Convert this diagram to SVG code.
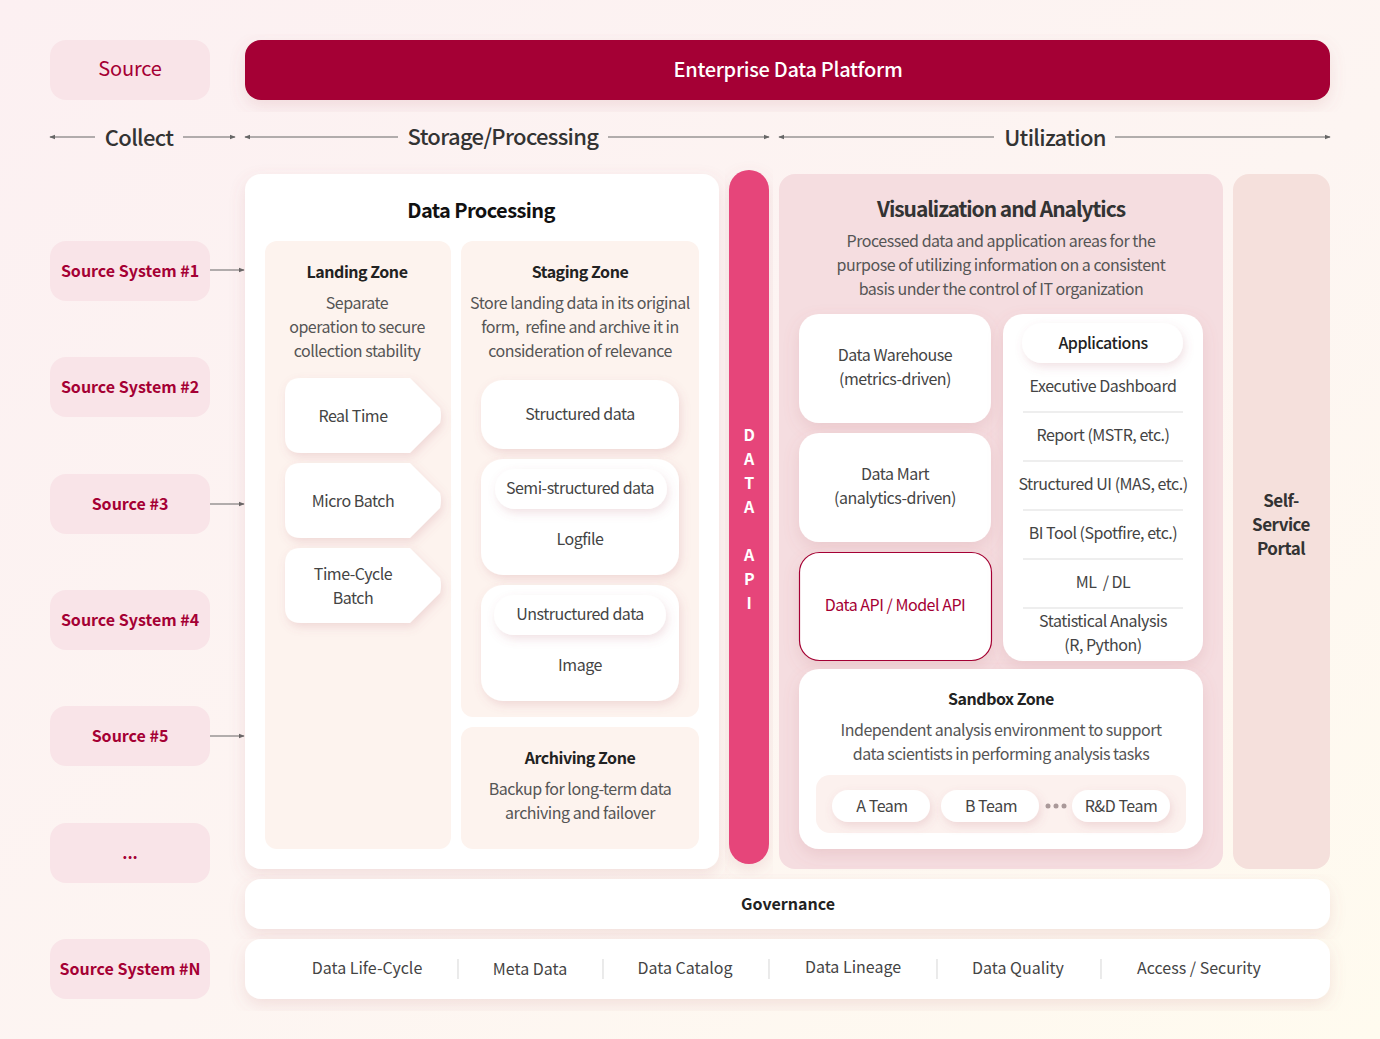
<svg xmlns="http://www.w3.org/2000/svg" width="1380" height="1039" viewBox="0 0 1380 1039">
<defs>
<linearGradient id="bg" x1="0" y1="0" x2="1" y2="1">
<stop offset="0" stop-color="#fcf0f2"/>
<stop offset="0.55" stop-color="#fdf5f2"/>
<stop offset="1" stop-color="#fffbef"/>
</linearGradient>
<filter id="sh" x="-10%" y="-10%" width="120%" height="130%">
<feDropShadow dx="0" dy="6" stdDeviation="8" flood-color="#b5606a" flood-opacity="0.16"/>
</filter>
<filter id="shs" x="-20%" y="-20%" width="140%" height="160%">
<feDropShadow dx="2" dy="4" stdDeviation="5" flood-color="#b5606a" flood-opacity="0.18"/>
</filter>
<marker id="ar" viewBox="0 0 8 8" refX="7" refY="4" markerWidth="6" markerHeight="6" orient="auto-start-reverse" markerUnits="userSpaceOnUse">
<path d="M0,1 L8,4 L0,7 z" fill="#666"/>
</marker>
</defs>
<style>
text{font-family:"Noto Sans CJK KR","Noto Sans",sans-serif;text-anchor:middle;dominant-baseline:central;letter-spacing:-0.03em}
.src{fill:#f9e4e8}
.srct{fill:#a50034;font-size:16px;font-weight:bold;letter-spacing:0}
.hdr{fill:#333;font-size:22px;font-weight:500}
.ttl{fill:#222;font-size:16px;font-weight:bold}
.dsc{fill:#555;font-size:16px}
.itm{fill:#444;font-size:16px}
.gov{fill:#444;font-size:16px;letter-spacing:0}
.ln{stroke:#666;stroke-width:1;fill:none}
.sep{stroke:#ddd;stroke-width:1.2}
.wh{fill:#fff}
.zone{fill:#fdf3ee}
</style>
<rect width="1380" height="1039" fill="url(#bg)"/>

<g id="source-header"><rect x="50" y="40" width="160" height="60" rx="16" class="src"/><text x="130" y="67" fill="#a50034" font-size="20" style="letter-spacing:-0.01em">Source</text></g>
<g id="edp"><rect x="245" y="40" width="1085" height="60" rx="16" fill="#a50034" filter="url(#sh)"/><text x="788" y="68" fill="#fff" font-size="20" font-weight="500" style="letter-spacing:-0.015em">Enterprise Data Platform</text></g>

<g id="phases">
<text x="139" y="136" class="hdr">Collect</text>
<text x="503" y="135" class="hdr">Storage/Processing</text>
<text x="1055" y="136" class="hdr">Utilization</text>
</g>

<g id="connectors">
<line x1="50" y1="137" x2="95" y2="137" class="ln" marker-start="url(#ar)"/>
<line x1="183" y1="137" x2="235" y2="137" class="ln" marker-end="url(#ar)"/>
<line x1="245" y1="137" x2="398" y2="137" class="ln" marker-start="url(#ar)"/>
<line x1="608" y1="137" x2="769" y2="137" class="ln" marker-end="url(#ar)"/>
<line x1="779" y1="137" x2="994" y2="137" class="ln" marker-start="url(#ar)"/>
<line x1="1115" y1="137" x2="1330" y2="137" class="ln" marker-end="url(#ar)"/>
<line x1="209" y1="270" x2="244" y2="270" class="ln" marker-end="url(#ar)"/>
<line x1="209" y1="504" x2="244" y2="504" class="ln" marker-end="url(#ar)"/>
<line x1="209" y1="736" x2="244" y2="736" class="ln" marker-end="url(#ar)"/>
</g>

<g id="sources">
<g id="src1"><rect x="50" y="241" width="160" height="60" rx="16" class="src"/><text x="130" y="270" class="srct">Source System #1</text></g>
<g id="src2"><rect x="50" y="357" width="160" height="60" rx="16" class="src"/><text x="130" y="386" class="srct">Source System #2</text></g>
<g id="src3"><rect x="50" y="474" width="160" height="60" rx="16" class="src"/><text x="130" y="503" class="srct">Source #3</text></g>
<g id="src4"><rect x="50" y="590" width="160" height="60" rx="16" class="src"/><text x="130" y="619" class="srct">Source System #4</text></g>
<g id="src5"><rect x="50" y="706" width="160" height="60" rx="16" class="src"/><text x="130" y="735" class="srct">Source #5</text></g>
<g id="src-more"><rect x="50" y="823" width="160" height="60" rx="16" class="src"/><text x="130" y="852" class="srct">...</text></g>
<g id="srcN"><rect x="50" y="939" width="160" height="60" rx="16" class="src"/><text x="130" y="968" class="srct">Source System #N</text></g>
</g>

<g id="data-processing">
<rect x="245" y="174" width="474" height="695" rx="16" class="wh" filter="url(#sh)"/>
<text x="481" y="209" fill="#111" font-size="20" font-weight="bold">Data Processing</text>
</g>

<g id="landing-zone">
<rect x="265" y="241" width="186" height="608" rx="12" class="zone"/>
<text x="357" y="271" class="ttl">Landing Zone</text>
<text x="357" y="302" class="dsc">Separate</text>
<text x="357" y="326" class="dsc">operation to secure</text>
<text x="357" y="350" class="dsc">collection stability</text>
</g>
<g id="real-time"><path d="M301,378 H410 L440,408 Q442,415.5 440,423 L410,453 H301 Q285,453 285,437 V394 Q285,378 301,378 Z" class="wh" filter="url(#shs)"/><text x="353" y="415" class="itm">Real Time</text></g>
<g id="micro-batch"><path d="M301,463 H410 L440,493 Q442,500.5 440,508 L410,538 H301 Q285,538 285,522 V479 Q285,463 301,463 Z" class="wh" filter="url(#shs)"/><text x="353" y="500" class="itm">Micro Batch</text></g>
<g id="time-cycle"><path d="M301,548 H410 L440,578 Q442,585.5 440,593 L410,623 H301 Q285,623 285,607 V564 Q285,548 301,548 Z" class="wh" filter="url(#shs)"/><text x="353" y="573" class="itm">Time-Cycle</text><text x="353" y="597" class="itm">Batch</text></g>

<g id="staging-zone">
<rect x="461" y="241" width="238" height="476" rx="12" class="zone"/>
<text x="580" y="271" class="ttl">Staging Zone</text>
<text x="580" y="302" class="dsc">Store landing data in its original</text>
<text x="580" y="326" class="dsc">form,&#160; refine and archive it in</text>
<text x="580" y="350" class="dsc">consideration of relevance</text>
</g>
<g id="structured"><rect x="481" y="380" width="198" height="69" rx="22" class="wh" filter="url(#shs)"/><text x="580" y="413" class="itm">Structured data</text></g>
<g id="semi-structured"><rect x="481" y="459" width="198" height="116" rx="22" class="wh" filter="url(#shs)"/><rect x="495" y="469" width="172" height="40" rx="20" class="wh" filter="url(#shs)"/><text x="580" y="487" class="itm">Semi-structured data</text><text x="580" y="538" class="itm">Logfile</text></g>
<g id="unstructured"><rect x="481" y="585" width="198" height="116" rx="22" class="wh" filter="url(#shs)"/><rect x="494" y="595" width="172" height="40" rx="20" class="wh" filter="url(#shs)"/><text x="580" y="613" class="itm">Unstructured data</text><text x="580" y="664" class="itm">Image</text></g>

<g id="archiving-zone">
<rect x="461" y="727" width="238" height="122" rx="12" class="zone"/>
<text x="580" y="757" class="ttl">Archiving Zone</text>
<text x="580" y="788" class="dsc">Backup for long-term data</text>
<text x="580" y="812" class="dsc">archiving and failover</text>
</g>

<g id="data-api">
<rect x="729" y="170" width="40" height="694" rx="20" fill="#e6457a" filter="url(#sh)"/>
<g font-size="16" font-weight="bold">
<text x="749" y="434" fill="#fff">D</text><text x="749" y="458" fill="#fff">A</text><text x="749" y="482" fill="#fff">T</text><text x="749" y="506" fill="#fff">A</text>
<text x="749" y="554" fill="#fff">A</text><text x="749" y="578" fill="#fff">P</text><text x="749" y="602" fill="#fff">I</text>
</g>
</g>

<g id="visualization">
<rect x="779" y="174" width="444" height="695" rx="16" fill="#f5dde0"/>
<text x="1001" y="208" fill="#333" font-size="21" font-weight="600" style="letter-spacing:-0.05em">Visualization and Analytics</text>
<text x="1001" y="240" class="dsc">Processed data and application areas for the</text>
<text x="1001" y="264" class="dsc">purpose of utilizing information on a consistent</text>
<text x="1001" y="288" class="dsc">basis under the control of IT organization</text>
</g>
<g id="data-warehouse"><rect x="799" y="314" width="192" height="109" rx="20" class="wh" filter="url(#sh)"/><text x="895" y="354" class="itm">Data Warehouse</text><text x="895" y="378" class="itm">(metrics-driven)</text></g>
<g id="data-mart"><rect x="799" y="433" width="192" height="109" rx="20" class="wh" filter="url(#sh)"/><text x="895" y="473" class="itm">Data Mart</text><text x="895" y="497" class="itm">(analytics-driven)</text></g>
<g id="model-api"><rect x="799.5" y="552.5" width="192" height="108" rx="20" class="wh" stroke="#a50034" stroke-width="1.2" filter="url(#sh)"/><text x="895" y="604" fill="#a50034" font-size="16">Data API / Model API</text></g>

<g id="applications">
<rect x="1003" y="314" width="200" height="347" rx="20" class="wh" filter="url(#sh)"/>
<rect x="1022" y="323" width="161" height="40" rx="20" class="wh" filter="url(#shs)"/>
<text x="1103" y="342" fill="#222" font-size="16" font-weight="500">Applications</text>
<text x="1103" y="385" class="itm">Executive Dashboard</text>
<line x1="1023" y1="412" x2="1183" y2="412" class="sep"/>
<text x="1103" y="434" class="itm">Report (MSTR, etc.)</text>
<line x1="1023" y1="461" x2="1183" y2="461" class="sep"/>
<text x="1103" y="483" class="itm">Structured UI (MAS, etc.)</text>
<line x1="1023" y1="510" x2="1183" y2="510" class="sep"/>
<text x="1103" y="532" class="itm">BI Tool (Spotfire, etc.)</text>
<line x1="1023" y1="559" x2="1183" y2="559" class="sep"/>
<text x="1103" y="581" class="itm">ML&#160; / DL</text>
<line x1="1023" y1="608" x2="1183" y2="608" class="sep"/>
<text x="1103" y="620" class="itm">Statistical Analysis</text>
<text x="1103" y="644" class="itm">(R, Python)</text>
</g>

<g id="sandbox">
<rect x="799" y="669" width="404" height="180" rx="20" class="wh" filter="url(#sh)"/>
<text x="1001" y="698" class="ttl">Sandbox Zone</text>
<text x="1001" y="729" class="dsc">Independent analysis environment to support</text>
<text x="1001" y="753" class="dsc">data scientists in performing analysis tasks</text>
<rect x="816" y="775" width="370" height="58" rx="14" fill="#fcf1ee"/>
<g id="team-a"><rect x="832" y="790" width="98" height="32" rx="16" class="wh" filter="url(#shs)"/><text x="882" y="805" class="itm">A Team</text></g>
<g id="team-b"><rect x="941" y="790" width="98" height="32" rx="16" class="wh" filter="url(#shs)"/><text x="991" y="805" class="itm">B Team</text></g>
<circle cx="1048" cy="806" r="2.5" fill="#a99"/><circle cx="1056" cy="806" r="2.5" fill="#a99"/><circle cx="1064" cy="806" r="2.5" fill="#a99"/>
<g id="team-rd"><rect x="1072" y="790" width="98" height="32" rx="16" class="wh" filter="url(#shs)"/><text x="1121" y="805" class="itm">R&amp;D Team</text></g>
</g>

<g id="self-service">
<rect x="1233" y="174" width="97" height="695" rx="16" fill="#f5e0dc"/>
<text x="1281" y="499" fill="#333" font-size="17" font-weight="bold">Self-</text>
<text x="1281" y="523" fill="#333" font-size="17" font-weight="bold">Service</text>
<text x="1281" y="547" fill="#333" font-size="17" font-weight="bold">Portal</text>
</g>

<g id="governance">
<rect x="245" y="879" width="1085" height="50" rx="16" class="wh" filter="url(#sh)"/>
<text x="788" y="903" fill="#222" font-size="16" font-weight="bold" style="letter-spacing:0">Governance</text>
</g>
<g id="governance-items">
<rect x="245" y="939" width="1085" height="60" rx="16" class="wh" filter="url(#sh)"/>
<text x="367" y="967" class="gov">Data Life-Cycle</text>
<line x1="458" y1="959" x2="458" y2="979" class="sep"/>
<text x="530" y="968" class="gov">Meta Data</text>
<line x1="603" y1="959" x2="603" y2="979" class="sep"/>
<text x="685" y="967" class="gov">Data Catalog</text>
<line x1="769" y1="959" x2="769" y2="979" class="sep"/>
<text x="853" y="966" class="gov">Data Lineage</text>
<line x1="937" y1="959" x2="937" y2="979" class="sep"/>
<text x="1018" y="967" class="gov">Data Quality</text>
<line x1="1101" y1="959" x2="1101" y2="979" class="sep"/>
<text x="1199" y="967" class="gov">Access / Security</text>
</g>
</svg>
